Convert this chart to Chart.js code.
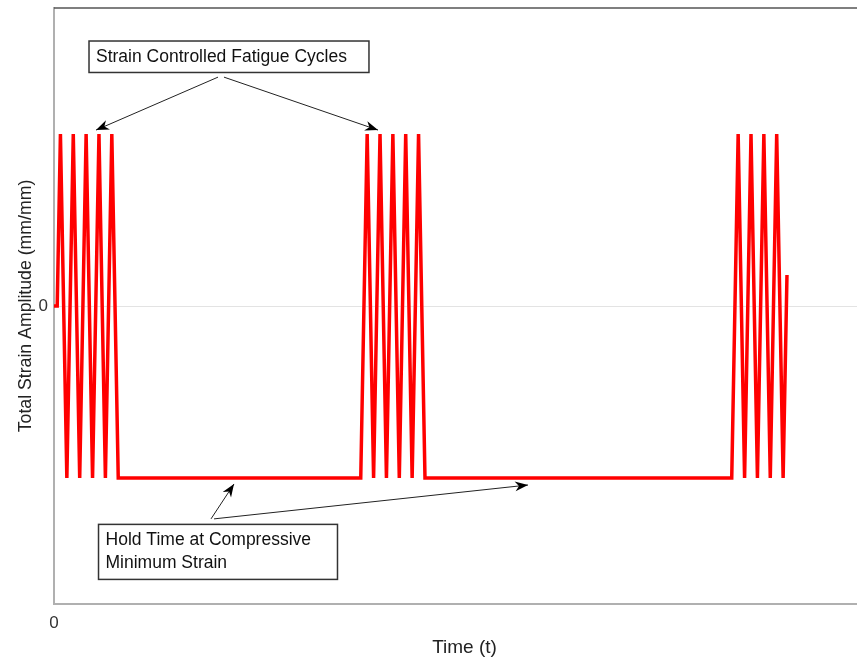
<!DOCTYPE html>
<html>
<head>
<meta charset="utf-8">
<script src="https://cdn.jsdelivr.net/npm/chart.js@4"></script>
<style>
  html, body { margin: 0; padding: 0; background: #fff; overflow: hidden; }
  #wrap { width: 857px; height: 660px; }
</style>
</head>
<body>
<div id="wrap"><canvas id="chart"></canvas></div>
<script>
// time (arbitrary units) and strain (normalised amplitude)
const timeValues = [0, 0.5, 1, 2, 3, 4, 5, 6, 7, 8, 9, 10,
  47.75, 48.75, 49.75, 50.75, 51.75, 52.75, 53.75, 54.75, 55.75, 56.75, 57.75,
  105.5, 106.5, 107.5, 108.5, 109.5, 110.5, 111.5, 112.5, 113.5, 114.1];
const strainValues = [0, 0, 1, -1, 1, -1, 1, -1, 1, -1, 1, -1,
  -1, 1, -1, 1, -1, 1, -1, 1, -1, 1, -1,
  -1, 1, -1, 1, -1, 1, -1, 1, -1, 0.18];
const xTicks = [0];
const yTicks = [0];
const xRange = [0, 125];
const yRange = [-1.733, 1.733];
const xTitle = 'Time (t)';
const yTitle = 'Total Strain Amplitude (mm/mm)';

// callout boxes and arrows, in data units
const notes = [
  { lines: ['Strain Controlled Fatigue Cycles'],
    box: [5.45, 1.541, 49.03, 1.358],
    arrows: [[25.53, 1.331, 6.54, 1.023], [26.46, 1.331, 50.44, 1.023]] },
  { lines: ['Hold Time at Compressive', 'Minimum Strain'],
    box: [6.93, -1.270, 44.13, -1.590],
    arrows: [[24.44, -1.238, 28.02, -1.035], [24.91, -1.238, 73.79, -1.041]] }
];

const points = timeValues.map((t, i) => ({ x: t, y: strainValues[i] }));
const FONT = '"Liberation Sans", Arial, sans-serif';

const frameTop = {
  id: 'frameTop',
  beforeDatasetsDraw(chart) {
    const ctx = chart.ctx, a = chart.chartArea;
    ctx.save();
    ctx.strokeStyle = '#555';
    ctx.lineWidth = 1.5;
    ctx.beginPath();
    ctx.moveTo(a.left, a.top);
    ctx.lineTo(a.right, a.top);
    ctx.stroke();
    // x axis title, sits a little right of the plot centre in the original
    ctx.fillStyle = '#222';
    ctx.font = '19px ' + FONT;
    ctx.textAlign = 'center';
    ctx.textBaseline = 'middle';
    ctx.fillText(xTitle, (a.left + a.right) / 2 + 9, a.bottom + 44);
    ctx.restore();
  }
};

function arrow(ctx, x1, y1, x2, y2) {
  ctx.beginPath();
  ctx.moveTo(x1, y1);
  ctx.lineTo(x2, y2);
  ctx.stroke();
  const ang = Math.atan2(y2 - y1, x2 - x1);
  const len = 13, w = 5;
  ctx.beginPath();
  ctx.moveTo(x2, y2);
  ctx.lineTo(x2 - len * Math.cos(ang) + w * Math.sin(ang), y2 - len * Math.sin(ang) - w * Math.cos(ang));
  ctx.lineTo(x2 - len * 0.7 * Math.cos(ang), y2 - len * 0.7 * Math.sin(ang));
  ctx.lineTo(x2 - len * Math.cos(ang) - w * Math.sin(ang), y2 - len * Math.sin(ang) + w * Math.cos(ang));
  ctx.closePath();
  ctx.fill();
}

const callouts = {
  id: 'callouts',
  afterDatasetsDraw(chart) {
    const ctx = chart.ctx, xs = chart.scales.x, ys = chart.scales.y;
    ctx.save();
    notes.forEach(n => {
      const l = xs.getPixelForValue(n.box[0]), t = ys.getPixelForValue(n.box[1]);
      const r = xs.getPixelForValue(n.box[2]), b = ys.getPixelForValue(n.box[3]);
      ctx.fillStyle = '#fff';
      ctx.fillRect(l, t, r - l, b - t);
      ctx.strokeStyle = '#333';
      ctx.lineWidth = 1.5;
      ctx.strokeRect(l, t, r - l, b - t);
      ctx.fillStyle = '#111';
      ctx.font = '17.5px ' + FONT;
      ctx.textBaseline = 'middle';
      const step = 22.6;
      const y0 = (t + b) / 2 - step * (n.lines.length - 1) / 2;
      n.lines.forEach((s, i) => ctx.fillText(s, l + 7, y0 + i * step));
      ctx.strokeStyle = '#222';
      ctx.fillStyle = '#000';
      ctx.lineWidth = 1;
      n.arrows.forEach(p => arrow(ctx,
        xs.getPixelForValue(p[0]), ys.getPixelForValue(p[1]),
        xs.getPixelForValue(p[2]), ys.getPixelForValue(p[3])));
    });
    ctx.restore();
  }
};

new Chart(document.getElementById('chart'), {
  type: 'line',
  data: {
    datasets: [{
      data: points,
      borderColor: '#ff0000',
      borderWidth: 3.5,
      pointRadius: 0,
      tension: 0,
      fill: false
    }]
  },
  options: {
    responsive: true,
    maintainAspectRatio: false,
    animation: false,
    layout: { padding: { top: 8, right: 0, left: 0, bottom: 0 } },
    plugins: { legend: { display: false }, tooltip: { enabled: false } },
    scales: {
      x: {
        type: 'linear',
        min: xRange[0], max: xRange[1],
        afterBuildTicks: ax => { ax.ticks = xTicks.map(v => ({ value: v })); },
        afterFit: ax => { ax.height = 56; ax.paddingLeft = 0; ax.paddingRight = 0; },
        grid: { display: false, drawTicks: false },
        border: { display: true, color: '#b0b0b0', width: 2 },
        ticks: { color: '#333', padding: 9, font: { family: FONT, size: 17 } },
        title: { display: false }
      },
      y: {
        min: yRange[0], max: yRange[1],
        afterBuildTicks: ax => { ax.ticks = yTicks.map(v => ({ value: v })); },
        afterFit: ax => { ax.width = 54; ax.paddingTop = 0; ax.paddingBottom = 0; },
        grid: { color: '#e3e3e3', lineWidth: 1, drawTicks: false },
        border: { display: true, color: '#b0b0b0', width: 2 },
        ticks: { color: '#333', padding: 6, font: { family: FONT, size: 17 } },
        title: { display: true, text: yTitle, color: '#222',
          font: { family: FONT, size: 17.7 }, padding: { top: 15, bottom: 0 } }
      }
    }
  },
  plugins: [frameTop, callouts]
});
</script>
</body>
</html>
